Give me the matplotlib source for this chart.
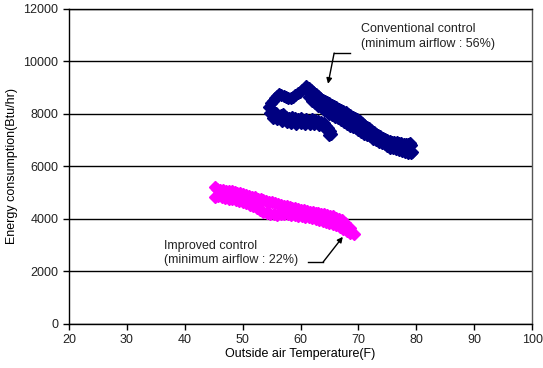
import matplotlib
matplotlib.use("Agg")
import matplotlib.pyplot as plt

plt.rcParams['font.family'] = ['Liberation Sans', 'DejaVu Sans']

# Conventional control (minimum airflow 56%) - hourly readings
conv_top_x = [54.6, 54.9, 55.2, 55.6, 55.9, 56.3, 56.7, 57.1, 57.5, 57.9, 58.3, 58.7,
              59.1, 59.5, 59.9, 60.3, 60.7, 61.0, 61.4, 61.8, 62.2, 62.6, 63.0, 63.4,
              63.8, 64.2, 64.6, 65.0, 65.4, 65.8, 66.2, 66.6, 67.0, 67.4, 67.8, 68.2,
              68.6, 69.0, 69.4, 69.8, 70.2, 70.6, 71.0, 71.4, 71.8, 72.2, 72.6, 73.0,
              73.4, 73.8, 74.2, 74.6, 75.0, 75.4, 75.8, 76.2, 76.6, 77.0, 77.4, 77.8,
              78.2, 78.6, 78.9, 79.1]
conv_top_y = [8250, 8400, 8500, 8600, 8700, 8750, 8720, 8680, 8650, 8620, 8600, 8650,
              8720, 8800, 8850, 8900, 8980, 9050, 8980, 8900, 8820, 8750, 8680, 8600,
              8550, 8500, 8450, 8400, 8350, 8300, 8250, 8200, 8170, 8130, 8080, 8000,
              7950, 7900, 7850, 7800, 7720, 7650, 7580, 7520, 7450, 7380, 7300, 7250,
              7200, 7150, 7100, 7050, 7000, 6980, 6950, 6950, 6920, 6900, 6880, 6870,
              6850, 6870, 6880, 6820]

conv_low_x = [54.7, 55.0, 55.4, 55.8, 56.2, 56.6, 57.0, 57.5, 58.0, 58.5, 59.0, 59.5,
              60.0, 60.5, 61.0, 61.5, 62.0, 62.5, 63.0, 63.5, 64.0, 64.4, 64.8, 65.1,
              65.3]
conv_low_y = [8050, 8000, 7950, 8050, 7900, 7950, 8000, 7900, 7850, 7900, 7830, 7800,
              7850, 7780, 7800, 7750, 7800, 7780, 7750, 7700, 7650, 7550, 7450, 7350,
              7250]

conv_low2_x = [55.3, 56.0, 56.8, 57.6, 58.4, 59.2, 60.0, 60.8, 61.6, 62.4, 63.2, 64.0,
               64.6, 65.0]
conv_low2_y = [7850, 7800, 7720, 7680, 7650, 7620, 7640, 7600, 7620, 7600, 7580, 7520,
               7380, 7200]

conv_mid_x = [61.5, 62.0, 62.5, 63.0, 63.5, 64.0, 64.5, 65.0, 65.5, 66.0, 66.5, 67.0,
              67.5, 68.0, 68.5, 69.0, 69.5, 70.0, 70.5, 71.0, 71.5, 72.0, 72.5, 73.0,
              73.5, 74.0, 74.5, 75.0, 75.5, 76.0, 76.5, 77.0, 77.5, 78.0, 78.5, 79.0,
              79.2]
conv_mid_y = [8650, 8500, 8400, 8300, 8250, 8150, 8100, 8000, 7950, 7900, 7850, 7780,
              7700, 7620, 7550, 7500, 7450, 7380, 7320, 7250, 7200, 7150, 7050, 7000,
              6950, 6900, 6850, 6780, 6720, 6700, 6650, 6620, 6580, 6550, 6520, 6500,
              6560]

# Improved control (minimum airflow 22%)
impr_top_x = [45.2, 45.6, 46.1, 46.6, 47.1, 47.6, 48.1, 48.6, 49.1, 49.6, 50.1, 50.6,
              51.1, 51.6, 52.1, 52.6, 53.1, 53.6, 54.1, 54.6, 55.1, 55.6, 56.1, 56.6,
              57.1, 57.6, 58.1, 58.6, 59.1, 59.6, 60.1, 60.6, 61.1, 61.6, 62.1, 62.6,
              63.1, 63.6, 64.1, 64.6, 65.1, 65.6, 66.1, 66.6, 67.1, 67.6, 68.1, 68.6]
impr_top_y = [5200, 5150, 5120, 5100, 5080, 5060, 5050, 5020, 5000, 4980, 4950, 4900,
              4880, 4850, 4820, 4780, 4750, 4720, 4680, 4650, 4630, 4600, 4560, 4530,
              4500, 4480, 4450, 4420, 4400, 4380, 4350, 4330, 4300, 4280, 4260, 4240,
              4220, 4200, 4180, 4150, 4130, 4100, 4050, 4000, 3950, 3850, 3750, 3650]

impr_low_x = [45.3, 45.8, 46.4, 47.0, 47.6, 48.2, 48.8, 49.4, 50.0, 50.6, 51.2, 51.8,
              52.4, 53.0, 53.6, 54.2, 54.8, 55.4, 56.0, 56.6, 57.2, 57.8, 58.4, 59.0,
              59.6, 60.2, 60.8, 61.4, 62.0, 62.6, 63.2, 63.8, 64.4, 65.0, 65.6, 66.2,
              66.8, 67.4, 68.0, 68.6, 69.2]
impr_low_y = [4850, 4870, 4830, 4800, 4780, 4750, 4720, 4700, 4650, 4600, 4550, 4480,
              4400, 4330, 4280, 4230, 4200, 4180, 4170, 4180, 4200, 4180, 4160, 4140,
              4120, 4100, 4080, 4060, 4040, 4000, 3970, 3940, 3900, 3860, 3820, 3760,
              3700, 3620, 3550, 3480, 3420]

navy = '#000080'
magenta = '#FF00FF'

fig = plt.figure(figsize=(5.43, 3.68), dpi=100)
ax = fig.add_axes([0.127, 0.1196, 0.853, 0.856])

conv_sets = [(conv_top_x, conv_top_y), (conv_low_x, conv_low_y),
             (conv_low2_x, conv_low2_y), (conv_mid_x, conv_mid_y)]
for xs, ys in conv_sets:
    ax.plot(xs, ys, linestyle='none', marker='D', markersize=6.3,
            color=navy, markeredgecolor=navy)
for xs, ys in [(impr_top_x, impr_top_y), (impr_low_x, impr_low_y)]:
    ax.plot(xs, ys, linestyle='none', marker='D', markersize=6.3,
            color=magenta, markeredgecolor=magenta)

ax.set_xlim(20, 100)
ax.set_ylim(0, 12000)
ax.set_xticks(range(20, 101, 10))
ax.set_yticks(range(0, 12001, 2000))
ax.grid(axis='y', color='black', linewidth=1)
ax.set_axisbelow(True)
ax.tick_params(direction='out', length=4, width=1, labelsize=9, colors='black',
               labelcolor='#222222')
for side in ['left', 'bottom', 'right', 'top']:
    ax.spines[side].set_color('black')
    ax.spines[side].set_linewidth(1)
ax.spines['right'].set_color('#555555')

ax.set_xlabel('Outside air Temperature(F)', fontsize=9, labelpad=1)
ax.set_ylabel('Energy consumption(Btu/hr)', fontsize=9, labelpad=4)

# annotations with elbow-style leader lines
ax.text(70.4, 10950, 'Conventional control\n(minimum airflow : 56%)',
        fontsize=9, ha='left', va='center', linespacing=1.25, color='#222222')
ax.plot([68.6, 65.8], [10320, 10320], color='black', linewidth=1)
ax.annotate('', xy=(64.75, 9150), xytext=(65.8, 10320),
            arrowprops=dict(arrowstyle='-|>', color='black', lw=1,
                            mutation_scale=8, shrinkA=0, shrinkB=0))

ax.text(36.5, 2700, 'Improved control\n(minimum airflow : 22%)',
        fontsize=9, ha='left', va='center', linespacing=1.25, color='#222222')
ax.plot([61.3, 63.9], [2360, 2360], color='black', linewidth=1)
ax.annotate('', xy=(67.3, 3320), xytext=(63.9, 2360),
            arrowprops=dict(arrowstyle='-|>', color='black', lw=1,
                            mutation_scale=8, shrinkA=0, shrinkB=0))

fig.savefig('out.png', dpi=100)
